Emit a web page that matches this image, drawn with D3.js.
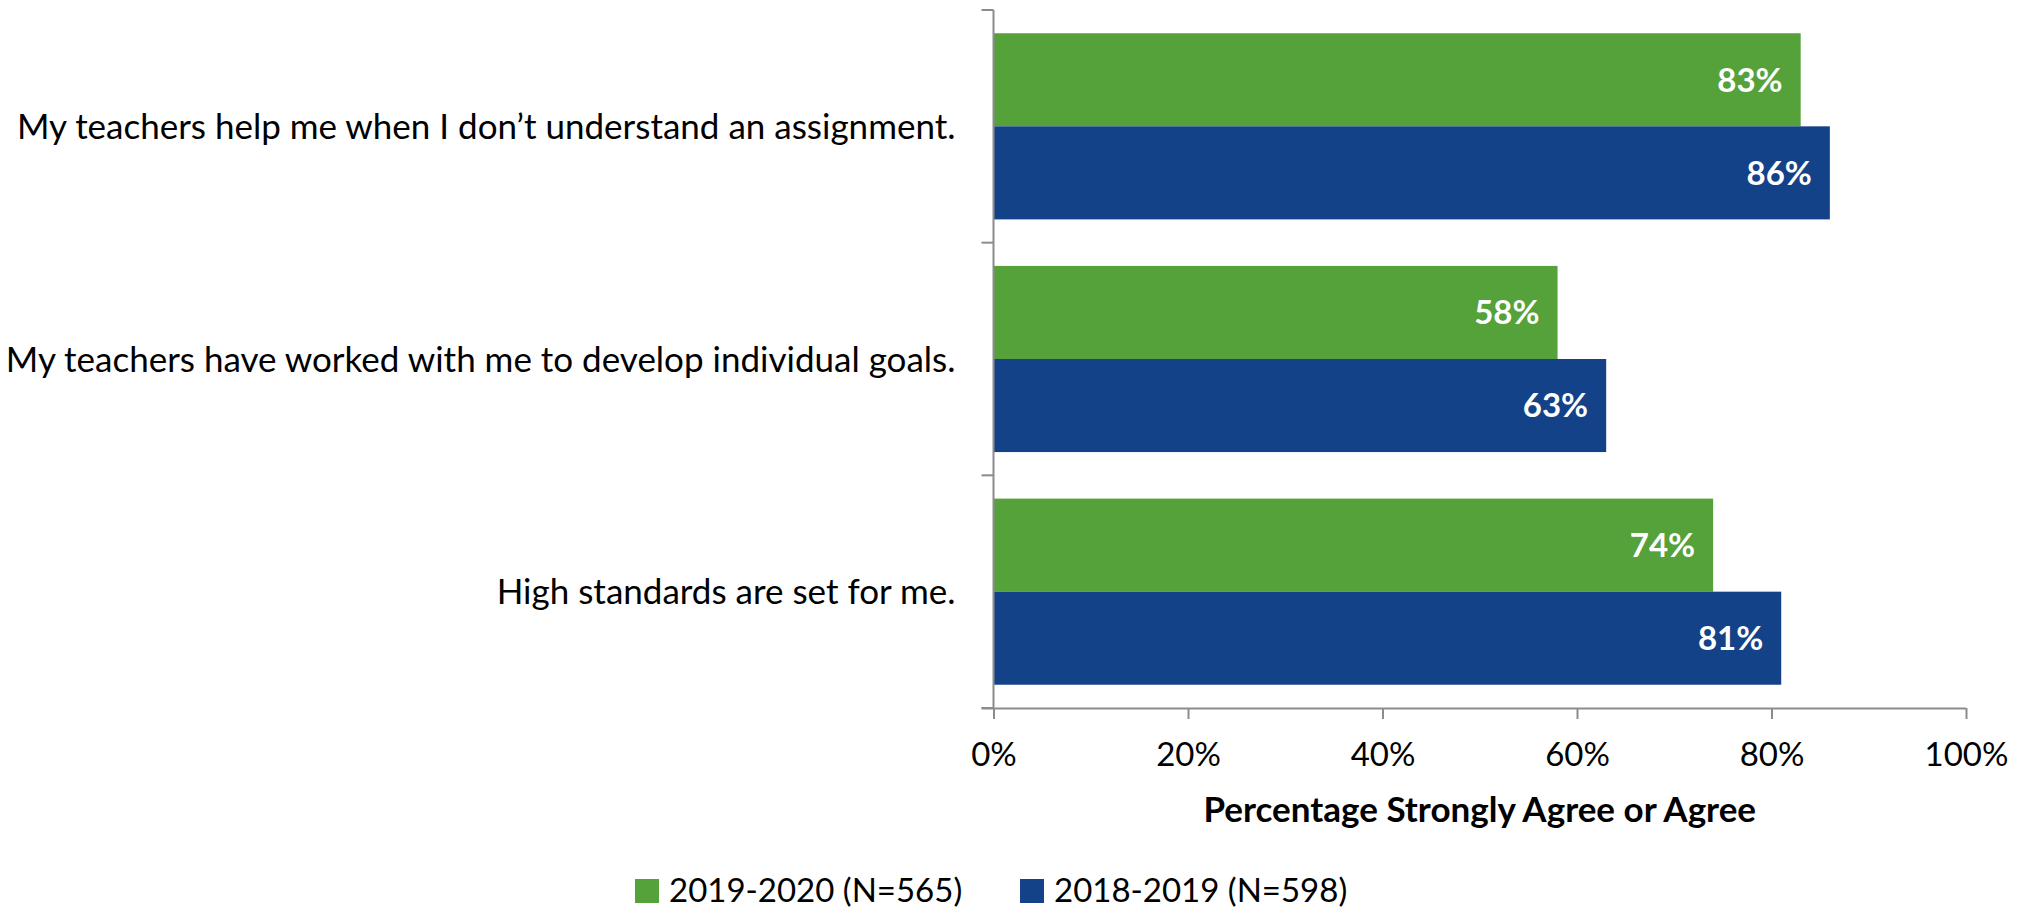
<!DOCTYPE html>
<html>
<head>
<meta charset="utf-8">
<script src="https://cdn.jsdelivr.net/npm/d3@7"></script>
<style>
  html, body { margin: 0; padding: 0; background: #fff; }
  svg { display: block; }
  text { font-family: Lato, "Open Sans", sans-serif; }
</style>
</head>
<body>
<svg id="chart" width="2025" height="911"></svg>
<script>
const categories = [
  "My teachers help me when I don\u2019t understand an assignment.",
  "My teachers have worked with me to develop individual goals.",
  "High standards are set for me."
];
const seriesNames = ["2019-2020 (N=565)", "2018-2019 (N=598)"];
const values2019_2020 = [0.83, 0.58, 0.74];
const values2018_2019 = [0.86, 0.63, 0.81];
const xTicks = [0, 0.2, 0.4, 0.6, 0.8, 1.0];
const xTitle = "Percentage Strongly Agree or Agree";
const colors = ["#55a13a", "#134288"];

const seriesValues = [values2019_2020, values2018_2019];
const W = 2025, H = 911;
const margin = { top: 10, right: 59, bottom: 203, left: 993.5 };
const FS = 33;
const FS_CAT = 35;

const svg = d3.select("#chart");
const x = d3.scaleLinear().domain([0, 1]).range([margin.left, W - margin.right]);
const y = d3.scaleBand().domain(categories).range([margin.top, H - margin.bottom]).padding(0);
const ySub = d3.scaleBand().domain(seriesNames).range([0, y.bandwidth()]).paddingInner(0).paddingOuter(0.25);

const axisColor = "#8c8c8c";

// bars
categories.forEach((cat, ci) => {
  seriesNames.forEach((s, si) => {
    const v = seriesValues[si][ci];
    const y0 = y(cat) + ySub(s);
    svg.append("rect")
      .attr("x", x(0))
      .attr("y", y0)
      .attr("width", x(v) - x(0))
      .attr("height", ySub.bandwidth())
      .attr("fill", colors[si]);
    svg.append("text")
      .attr("x", x(v) - 18)
      .attr("y", y0 + ySub.bandwidth() / 2)
      .attr("dy", "0.36em")
      .attr("text-anchor", "end")
      .attr("fill", "#ffffff")
      .attr("font-weight", "bold")
      .attr("font-size", FS)
      .text(d3.format(".0%")(v));
  });
});

// x axis
const xAxis = d3.axisBottom(x)
  .tickValues(xTicks)
  .tickFormat(d3.format(".0%"))
  .tickSize(11)
  .tickSizeOuter(0)
  .tickPadding(24);
const gx = svg.append("g")
  .attr("transform", `translate(0,${H - margin.bottom})`)
  .call(xAxis);
gx.select(".domain").attr("stroke", axisColor).attr("stroke-width", 2)
  .attr("d", `M${x(0) - 12},0.5H${x(1)}`);
gx.selectAll(".tick line").attr("stroke", axisColor).attr("stroke-width", 2);
gx.selectAll(".tick text")
  .attr("font-size", FS)
  .attr("font-family", "Lato, sans-serif")
  .attr("fill", "#000");

// y axis (ticks at band boundaries)
const yEdges = categories.map(c => y(c)).concat([y(categories[categories.length - 1]) + y.bandwidth()]);
const gy = svg.append("g");
gy.append("line")
  .attr("x1", x(0)).attr("x2", x(0))
  .attr("y1", yEdges[0]).attr("y2", yEdges[yEdges.length - 1])
  .attr("stroke", axisColor).attr("stroke-width", 2);
gy.selectAll("line.tick").data(yEdges).join("line")
  .attr("class", "tick")
  .attr("x1", x(0) - 12).attr("x2", x(0))
  .attr("y1", d => d).attr("y2", d => d)
  .attr("stroke", axisColor).attr("stroke-width", 2);
gy.selectAll("text").data(categories).join("text")
  .attr("x", x(0) - 38)
  .attr("y", d => y(d) + y.bandwidth() / 2)
  .attr("dy", "0.36em")
  .attr("text-anchor", "end")
  .attr("font-size", FS_CAT)
  .attr("fill", "#000")
  .text(d => d);

// x title
svg.append("text")
  .attr("x", (x(0) + x(1)) / 2)
  .attr("y", 822)
  .attr("text-anchor", "middle")
  .attr("font-weight", "bold")
  .attr("font-size", FS_CAT)
  .attr("fill", "#000")
  .text(xTitle);

// legend
const legendX = [635, 1020];
const lg = svg.append("g");
seriesNames.forEach((s, i) => {
  lg.append("rect")
    .attr("x", legendX[i]).attr("y", 879)
    .attr("width", 24).attr("height", 24)
    .attr("fill", colors[i]);
  lg.append("text")
    .attr("x", legendX[i] + 34).attr("y", 902)
    .attr("font-size", FS)
    .attr("fill", "#000")
    .text(s);
});
</script>
</body>
</html>
